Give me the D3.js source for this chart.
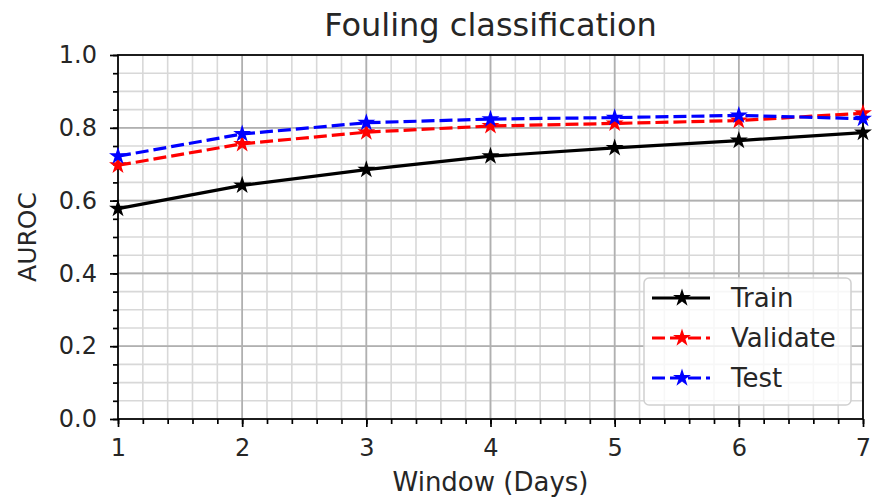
<!DOCTYPE html>
<html>
<head>
<meta charset="utf-8">
<script src="https://cdn.jsdelivr.net/npm/d3@7"></script>
<style>
  body { margin: 0; background: #fff; }
  text { font-family: "DejaVu Sans", sans-serif; fill: #262626; }
</style>
</head>
<body>
<div id="chart"></div>
<script>
// data
const windows = [1, 2, 3, 4, 5, 6, 7];
const trainAuc = [0.578, 0.642, 0.685, 0.722, 0.745, 0.765, 0.787];
const validateAuc = [0.697, 0.756, 0.788, 0.805, 0.812, 0.820, 0.840];
const testAuc = [0.722, 0.783, 0.814, 0.824, 0.828, 0.834, 0.825];
const seriesNames = ["Train", "Validate", "Test"];
const seriesColours = ["#000000", "#ff0000", "#0000ff"];
const yTicks = [0.0, 0.2, 0.4, 0.6, 0.8, 1.0];

const margins = { top: 55, right: 11, bottom: 82, left: 118 };
const width = 874 - margins.left - margins.right;
const height = 501 - margins.top - margins.bottom;

const svg = d3.select("#chart")
    .append("svg")
    .attr("width", 874)
    .attr("height", 501)
    .append("g")
    .attr("transform", "translate(" + margins.left + "," + margins.top + ")");

const x = d3.scaleLinear().domain([1, 7]).range([0, width]);
const y = d3.scaleLinear().domain([0, 1]).range([height, 0]);

//minor grid
const xMinor = d3.range(1, 7.001, 0.2);
const yMinor = d3.range(0, 1.001, 0.05);
svg.append("g").selectAll("line").data(xMinor).enter().append("line")
    .attr("x1", d => x(d)).attr("x2", d => x(d)).attr("y1", 0).attr("y2", height)
    .attr("stroke", "#d8d8d8").attr("stroke-width", 1.6);
svg.append("g").selectAll("line").data(yMinor).enter().append("line")
    .attr("y1", d => y(d)).attr("y2", d => y(d)).attr("x1", 0).attr("x2", width)
    .attr("stroke", "#d8d8d8").attr("stroke-width", 1.6);

//major grid
svg.append("g").selectAll("line").data(windows).enter().append("line")
    .attr("x1", d => x(d)).attr("x2", d => x(d)).attr("y1", 0).attr("y2", height)
    .attr("stroke", "#b0b0b0").attr("stroke-width", 1.7);
svg.append("g").selectAll("line").data(yTicks).enter().append("line")
    .attr("y1", d => y(d)).attr("y2", d => y(d)).attr("x1", 0).attr("x2", width)
    .attr("stroke", "#b0b0b0").attr("stroke-width", 1.7);

//axes
const xAxis = svg.append("g").attr("transform", "translate(0," + height + ")")
    .call(d3.axisBottom(x).tickValues(windows).tickFormat(d3.format("d")).tickSize(8).tickPadding(12));
const xMinorAxis = svg.append("g").attr("transform", "translate(0," + height + ")")
    .call(d3.axisBottom(x).tickValues(xMinor).tickFormat("").tickSize(5));
const yAxis = svg.append("g")
    .call(d3.axisLeft(y).tickValues(yTicks).tickFormat(d3.format(".1f")).tickSize(8).tickPadding(13));
const yMinorAxis = svg.append("g")
    .call(d3.axisLeft(y).tickValues(yMinor).tickFormat("").tickSize(5));

[xAxis, xMinorAxis, yAxis, yMinorAxis].forEach(a => {
    a.select(".domain").remove();
    a.selectAll("line").attr("stroke", "#000").attr("stroke-width", 1.7);
    a.selectAll("text").style("font-size", "24px").attr("fill", "#262626");
});

//frame
svg.append("rect")
    .attr("width", width).attr("height", height)
    .attr("fill", "none").attr("stroke", "#000").attr("stroke-width", 1.7);

//lines
const star = d3.symbol().type(d3.symbolStar).size(100);
const allSeries = [trainAuc, validateAuc, testAuc];
const line = d3.line().x((d, i) => x(windows[i])).y(d => y(d));

allSeries.forEach((vals, k) => {
    svg.append("path")
        .datum(vals)
        .attr("d", line)
        .attr("fill", "none")
        .attr("stroke", seriesColours[k])
        .attr("stroke-width", 3.2)
        .attr("stroke-dasharray", k === 0 ? null : "13,5");
    svg.append("g").selectAll("path").data(vals).enter().append("path")
        .attr("d", star)
        .attr("transform", (d, i) => "translate(" + x(windows[i]) + "," + y(d) + ")")
        .attr("fill", seriesColours[k]);
});

//title and labels
svg.append("text")
    .attr("x", width / 2).attr("y", -19)
    .attr("text-anchor", "middle")
    .style("font-size", "32px")
    .text("Fouling classification");

svg.append("text")
    .attr("x", width / 2).attr("y", height + 72)
    .attr("text-anchor", "middle")
    .style("font-size", "26px")
    .text("Window (Days)");

svg.append("text")
    .attr("transform", "rotate(-90)")
    .attr("x", -height / 2).attr("y", -82)
    .attr("text-anchor", "middle")
    .style("font-size", "25px")
    .text("AUROC");

//legend
const legend = svg.append("g").attr("transform", "translate(" + (644 - margins.left) + "," + (278 - margins.top) + ")");
legend.append("rect")
    .attr("width", 207).attr("height", 127).attr("rx", 5)
    .attr("fill", "#fff").attr("fill-opacity", 0.8)
    .attr("stroke", "#d0d0d0").attr("stroke-width", 1.5);

const items = legend.selectAll(".legend-item").data(seriesNames).enter().append("g")
    .attr("class", "legend-item")
    .attr("transform", (d, i) => "translate(0," + (20 + i * 40) + ")");
items.append("line")
    .attr("x1", 8).attr("x2", 66)
    .attr("stroke", (d, i) => seriesColours[i])
    .attr("stroke-width", 3.2)
    .attr("stroke-dasharray", (d, i) => i === 0 ? null : "13,5");
items.append("path")
    .attr("d", star)
    .attr("transform", "translate(38,0)")
    .attr("fill", (d, i) => seriesColours[i]);
items.append("text")
    .attr("x", 87).attr("y", 9)
    .style("font-size", "26px")
    .text(d => d);
</script>
</body>
</html>
